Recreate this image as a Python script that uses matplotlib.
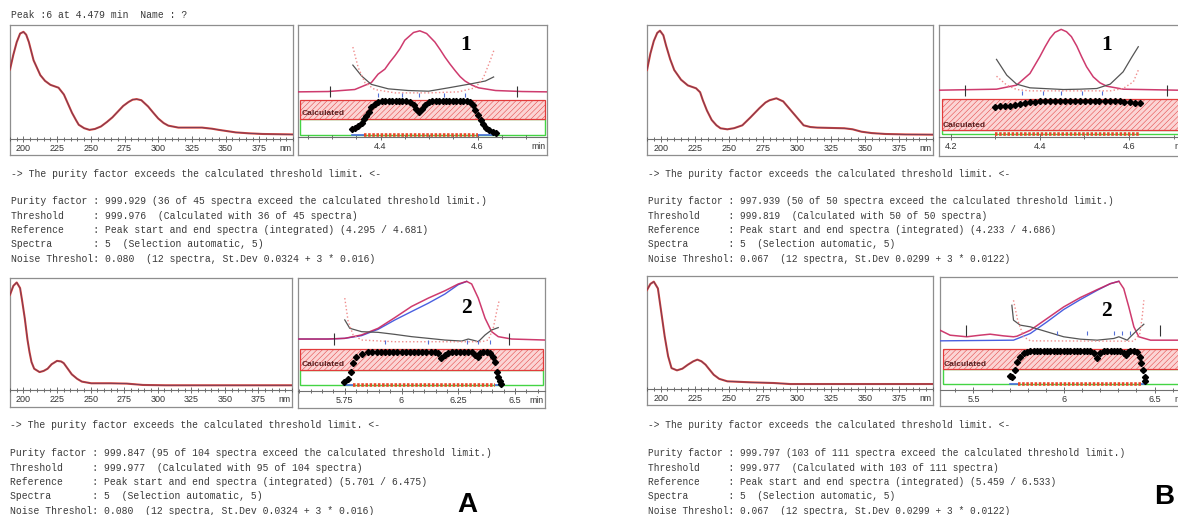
import numpy as np
import matplotlib.pyplot as plt
from matplotlib.patches import Rectangle
from matplotlib.ticker import MultipleLocator

plt.rcParams['font.family'] = 'Liberation Sans'
plt.rcParams['hatch.linewidth'] = 0.35

# ---------------- UV spectra (normalised absorbance) ----------------
spec_ticks = [200, 225, 250, 275, 300, 325, 350, 375]
spec_ticklabels = ['200', '225', '250', '275', '300', '325', '350', '375']

spec_a1_wl = [190, 192.5, 195, 197.5, 200, 202, 204, 207.5, 212.5, 216, 220, 226, 230, 233, 236,
              239, 241, 245, 249, 253, 257.5, 262, 266, 270, 274, 278, 281, 284, 287.5, 292.5,
              296, 300, 304, 307.5, 315, 325, 332.5, 340, 345, 357.5, 367, 377.5, 400]
spec_a1_ab = [0.61, 0.74, 0.85, 0.925, 0.94, 0.915, 0.85, 0.69, 0.56, 0.51, 0.475, 0.45, 0.39,
              0.31, 0.23, 0.165, 0.125, 0.095, 0.08, 0.088, 0.11, 0.15, 0.19, 0.24, 0.29, 0.325,
              0.345, 0.35, 0.34, 0.285, 0.235, 0.18, 0.14, 0.117, 0.10, 0.10, 0.10, 0.09, 0.08,
              0.058, 0.05, 0.044, 0.04]

spec_b1_wl = [190, 192.5, 195, 197.5, 199.5, 202, 204, 207, 210, 215, 220, 226, 229, 231, 234,
              237.5, 241, 244, 249, 254, 260, 266, 272.5, 277, 280, 285, 290, 295, 300, 305,
              310, 315, 325, 335, 341, 347.5, 355, 365, 380, 400]
spec_b1_ab = [0.605, 0.75, 0.86, 0.93, 0.95, 0.91, 0.82, 0.70, 0.605, 0.52, 0.47, 0.445, 0.41,
              0.34, 0.25, 0.167, 0.12, 0.094, 0.085, 0.095, 0.12, 0.19, 0.27, 0.32, 0.34, 0.357,
              0.33, 0.26, 0.19, 0.12, 0.105, 0.10, 0.097, 0.094, 0.085, 0.064, 0.052, 0.044,
              0.04, 0.038]

spec_a2_wl = [190, 192.5, 195, 197.5, 199, 201, 203, 204.5, 206, 208, 212, 215, 218, 221, 225,
              228, 230, 233, 236, 240, 243.5, 250.5, 265, 277, 289, 306, 400]
spec_a2_ab = [0.85, 0.93, 0.96, 0.91, 0.80, 0.64, 0.45, 0.34, 0.25, 0.19, 0.16, 0.17, 0.19,
              0.23, 0.26, 0.255, 0.24, 0.19, 0.14, 0.10, 0.075, 0.06, 0.06, 0.057, 0.045,
              0.042, 0.042]

spec_b2_wl = [190, 192.5, 195, 198, 200, 203, 205.5, 208, 212, 216, 220, 224, 227, 230, 233,
              236, 239, 243, 249, 266, 283, 295, 400]
spec_b2_ab = [0.876, 0.93, 0.95, 0.89, 0.72, 0.465, 0.29, 0.185, 0.165, 0.18, 0.215, 0.245,
              0.26, 0.245, 0.215, 0.17, 0.126, 0.09, 0.068, 0.059, 0.053, 0.044, 0.044]

# ---------------- peak purity panels ----------------
# panel 1, A
chrom_a1_t = [4.230, 4.292, 4.347, 4.381, 4.395, 4.409, 4.419, 4.430, 4.440, 4.450, 4.468, 4.481,
              4.495, 4.512, 4.523, 4.533, 4.543, 4.554, 4.564, 4.574, 4.588, 4.602, 4.637, 4.692, 4.743]
chrom_a1_y = [0.403, 0.406, 0.424, 0.485, 0.561, 0.606, 0.667, 0.727, 0.788, 0.864, 0.933, 0.948,
              0.924, 0.848, 0.779, 0.712, 0.652, 0.591, 0.539, 0.500, 0.464, 0.439, 0.415, 0.406, 0.403]
black_a1_t = [4.343, 4.361, 4.381, 4.416, 4.457, 4.499, 4.540, 4.588, 4.616, 4.633]
black_a1_y = [0.642, 0.545, 0.470, 0.430, 0.415, 0.409, 0.439, 0.476, 0.500, 0.536]
pink_a1_t = [4.343, 4.354, 4.368, 4.388, 4.430, 4.500, 4.560, 4.595, 4.612, 4.626, 4.634]
pink_a1_y = [0.803, 0.621, 0.485, 0.424, 0.394, 0.394, 0.403, 0.439, 0.530, 0.682, 0.779]
purity_a1_t = [4.341, 4.347, 4.354, 4.361, 4.366, 4.371, 4.376, 4.381, 4.388, 4.395,
               4.403, 4.410, 4.417, 4.424, 4.431, 4.438, 4.445, 4.452,
               4.461, 4.468, 4.474, 4.480, 4.486, 4.492, 4.499,
               4.507, 4.514, 4.521, 4.528, 4.535, 4.542, 4.549, 4.556, 4.563, 4.570, 4.578,
               4.585, 4.590, 4.595, 4.600, 4.606, 4.611, 4.617, 4.624, 4.631, 4.637]
purity_a1_y = [0.070, 0.082, 0.100, 0.127, 0.161, 0.191, 0.227, 0.264, 0.294, 0.309,
               0.318, 0.318, 0.318, 0.318, 0.318, 0.318, 0.318, 0.318,
               0.309, 0.282, 0.248, 0.221, 0.248, 0.282, 0.309,
               0.318, 0.318, 0.318, 0.318, 0.318, 0.318, 0.318, 0.318, 0.318, 0.318, 0.318,
               0.309, 0.282, 0.242, 0.197, 0.152, 0.112, 0.082, 0.061, 0.045, 0.036]
bar_a1 = [4.366, 4.600]
bounds_a1 = [4.295, 4.681]
selected_a1 = [4.395, 4.445, 4.480, 4.530, 4.575]
calc_a1 = [0.160, 0.327]
noise_a1 = [0.018, 0.160]

# panel 1, B
chrom_b1_t = [4.174, 4.303, 4.348, 4.378, 4.400, 4.412, 4.423, 4.434, 4.448, 4.460, 4.471, 4.483,
              4.494, 4.505, 4.520, 4.535, 4.550, 4.587, 4.710, 4.737]
chrom_b1_y = [0.418, 0.427, 0.463, 0.567, 0.716, 0.806, 0.881, 0.934, 0.961, 0.940, 0.896, 0.812,
              0.716, 0.627, 0.537, 0.484, 0.454, 0.427, 0.418, 0.418]
black_b1_t = [4.303, 4.326, 4.348, 4.378, 4.453, 4.490, 4.528, 4.558, 4.587, 4.606, 4.621]
black_b1_y = [0.693, 0.552, 0.472, 0.439, 0.424, 0.427, 0.433, 0.472, 0.582, 0.710, 0.806]
pink_b1_t = [4.303, 4.326, 4.348, 4.378, 4.558, 4.587, 4.610, 4.621]
pink_b1_y = [0.543, 0.463, 0.424, 0.412, 0.412, 0.433, 0.493, 0.597]
purity_b1_t = [4.299, 4.310, 4.321, 4.333, 4.344, 4.355, 4.366, 4.378, 4.389, 4.400,
               4.411, 4.422, 4.434, 4.445, 4.456, 4.467, 4.478, 4.490, 4.501, 4.512,
               4.523, 4.534, 4.546, 4.557, 4.568, 4.579, 4.590, 4.602, 4.613, 4.625]
purity_b1_y = [0.272, 0.274, 0.276, 0.281, 0.290, 0.298, 0.304, 0.310, 0.314, 0.318,
               0.320, 0.322, 0.322, 0.323, 0.323, 0.322, 0.322, 0.323, 0.323, 0.322,
               0.322, 0.321, 0.321, 0.320, 0.320, 0.318, 0.316, 0.313, 0.308, 0.300]
bar_b1 = [4.299, 4.625]
bounds_b1 = [4.233, 4.686]
selected_b1 = [4.360, 4.408, 4.448, 4.494, 4.539]
calc_b1 = [0.060, 0.343]
noise_b1 = [0.028, 0.060]

# panel 2, A
chrom_a2_t = [5.544, 5.676, 5.750, 5.824, 5.897, 5.971, 6.044, 6.118, 6.191, 6.250, 6.287,
              6.309, 6.338, 6.368, 6.397, 6.426, 6.485, 6.632]
chrom_a2_y = [0.460, 0.460, 0.466, 0.496, 0.555, 0.650, 0.748, 0.822, 0.887, 0.947, 0.970,
              0.947, 0.822, 0.644, 0.525, 0.481, 0.460, 0.451]
blue_a2_t = [5.544, 5.676, 5.750, 5.824, 5.897, 5.971, 6.044, 6.118, 6.191, 6.250, 6.287]
blue_a2_y = [0.460, 0.460, 0.466, 0.490, 0.546, 0.629, 0.703, 0.777, 0.858, 0.941, 0.970]
black_a2_t = [5.750, 5.772, 5.824, 5.897, 5.971, 6.044, 6.118, 6.191, 6.265, 6.294, 6.324,
              6.338, 6.368, 6.397, 6.426]
black_a2_y = [0.629, 0.555, 0.525, 0.519, 0.501, 0.481, 0.466, 0.451, 0.442, 0.460, 0.445,
              0.436, 0.496, 0.540, 0.561]
pink_a2_t = [5.750, 5.765, 5.787, 5.824, 5.971, 6.353, 6.382, 6.404, 6.419, 6.429]
pink_a2_y = [0.822, 0.614, 0.496, 0.451, 0.436, 0.436, 0.451, 0.555, 0.703, 0.792]
purity_a2_t = [5.747, 5.765, 5.776, 5.787, 5.801, 5.824, 5.853,
               5.871, 5.890, 5.908, 5.926, 5.944, 5.963, 5.981, 6.000, 6.018, 6.037,
               6.055, 6.074, 6.092, 6.110, 6.129, 6.147,
               6.162, 6.176, 6.191, 6.206,
               6.221, 6.240, 6.258, 6.276, 6.294, 6.309,
               6.324, 6.335, 6.346, 6.360, 6.375, 6.390, 6.404, 6.412, 6.419, 6.426, 6.434, 6.438]
purity_a2_y = [0.080, 0.110, 0.169, 0.252, 0.303, 0.329, 0.341,
               0.341, 0.341, 0.341, 0.341, 0.341, 0.341, 0.341, 0.341, 0.341, 0.341,
               0.341, 0.341, 0.341, 0.341, 0.341, 0.341,
               0.332, 0.288, 0.318, 0.335,
               0.341, 0.341, 0.341, 0.341, 0.341, 0.341,
               0.323, 0.303, 0.332, 0.341, 0.341, 0.338, 0.303, 0.258, 0.169, 0.125, 0.086, 0.065]
bar_a2 = [5.787, 6.412]
bounds_a2 = [5.701, 6.475]
selected_a2 = [5.926, 6.118, 6.287, 6.338, 6.390]
calc_a2 = [0.190, 0.371]
noise_a2 = [0.056, 0.190]

# panel 2, B
chrom_b2_t = [5.315, 5.371, 5.463, 5.537, 5.592, 5.666, 5.721, 5.740, 5.814, 5.906, 5.998,
              6.090, 6.183, 6.256, 6.303, 6.330, 6.358, 6.386, 6.413, 6.478, 6.633, 6.696]
chrom_b2_y = [0.529, 0.485, 0.471, 0.485, 0.494, 0.479, 0.471, 0.476, 0.529, 0.632, 0.735,
              0.818, 0.888, 0.941, 0.962, 0.897, 0.735, 0.559, 0.471, 0.441, 0.441, 0.441]
blue_b2_t = [5.315, 5.721, 5.814, 5.906, 5.998, 6.090, 6.183, 6.256, 6.303]
blue_b2_y = [0.435, 0.441, 0.500, 0.603, 0.712, 0.800, 0.882, 0.941, 0.962]
black_b2_t = [5.712, 5.721, 5.758, 5.814, 5.906, 5.998, 6.090, 6.183, 6.275, 6.303, 6.349,
              6.367, 6.404, 6.441]
black_b2_y = [0.750, 0.618, 0.574, 0.559, 0.515, 0.471, 0.450, 0.441, 0.456, 0.471, 0.441,
              0.471, 0.529, 0.582]
pink_b2_t = [5.721, 5.744, 5.777, 5.814, 6.386, 6.419, 6.432, 6.441]
pink_b2_y = [0.794, 0.618, 0.471, 0.435, 0.432, 0.500, 0.647, 0.794]
purity_b2_t = [5.703, 5.714, 5.727, 5.740, 5.755, 5.777, 5.795, 5.814,
               5.832, 5.851, 5.869, 5.888, 5.906, 5.924, 5.943, 5.961, 5.980, 5.998,
               6.017, 6.035, 6.053, 6.072, 6.090, 6.109, 6.127, 6.146,
               6.164, 6.183, 6.201, 6.220,
               6.238, 6.257, 6.275, 6.294, 6.312,
               6.330, 6.340, 6.353, 6.367, 6.386, 6.404, 6.419, 6.426, 6.437, 6.445, 6.450]
purity_b2_y = [0.124, 0.118, 0.176, 0.250, 0.294, 0.324, 0.338, 0.344,
               0.344, 0.344, 0.344, 0.344, 0.344, 0.344, 0.344, 0.344, 0.344, 0.344,
               0.344, 0.344, 0.344, 0.344, 0.344, 0.344, 0.344, 0.344,
               0.324, 0.285, 0.324, 0.341,
               0.344, 0.344, 0.344, 0.344, 0.344,
               0.329, 0.309, 0.338, 0.344, 0.344, 0.338, 0.294, 0.235, 0.176, 0.118, 0.082]
bar_b2 = [5.744, 6.426]
bounds_b2 = [5.459, 6.533]
selected_b2 = [5.961, 6.127, 6.275, 6.321, 6.363]
calc_b2 = [0.182, 0.359]
noise_b2 = [0.053, 0.182]

# ---------------- report texts ----------------
title_a = 'Peak :6 at 4.479 min  Name : ?'
arrow_line = '-> The purity factor exceeds the calculated threshold limit. <-'
report_a1 = ['Purity factor : 999.929 (36 of 45 spectra exceed the calculated threshold limit.)',
             'Threshold     : 999.976  (Calculated with 36 of 45 spectra)',
             'Reference     : Peak start and end spectra (integrated) (4.295 / 4.681)',
             'Spectra       : 5  (Selection automatic, 5)',
             'Noise Threshol: 0.080  (12 spectra, St.Dev 0.0324 + 3 * 0.016)']
report_a2 = ['Purity factor : 999.847 (95 of 104 spectra exceed the calculated threshold limit.)',
             'Threshold     : 999.977  (Calculated with 95 of 104 spectra)',
             'Reference     : Peak start and end spectra (integrated) (5.701 / 6.475)',
             'Spectra       : 5  (Selection automatic, 5)',
             'Noise Threshol: 0.080  (12 spectra, St.Dev 0.0324 + 3 * 0.016)']
report_b1 = ['Purity factor : 997.939 (50 of 50 spectra exceed the calculated threshold limit.)',
             'Threshold     : 999.819  (Calculated with 50 of 50 spectra)',
             'Reference     : Peak start and end spectra (integrated) (4.233 / 4.686)',
             'Spectra       : 5  (Selection automatic, 5)',
             'Noise Threshol: 0.067  (12 spectra, St.Dev 0.0299 + 3 * 0.0122)']
report_b2 = ['Purity factor : 999.797 (103 of 111 spectra exceed the calculated threshold limit.)',
             'Threshold     : 999.977  (Calculated with 103 of 111 spectra)',
             'Reference     : Peak start and end spectra (integrated) (5.459 / 6.533)',
             'Spectra       : 5  (Selection automatic, 5)',
             'Noise Threshol: 0.067  (12 spectra, St.Dev 0.0299 + 3 * 0.0122)']

# ---------------- drawing ----------------
W, H = 1178, 515
fig = plt.figure(figsize=(W / 100, H / 100), dpi=100)
FRAME = '#8e8e8e'


def box(l, t, r, b):
    return [l / W, 1 - b / H, (r - l) / W, (b - t) / H]


def frame_axes(l, t, r, b):
    fr = fig.add_axes(box(l, t, r, b))
    fr.set_xticks([])
    fr.set_yticks([])
    for s in fr.spines.values():
        s.set_color(FRAME)
        s.set_linewidth(0.9)
    return fr


def style_axis(ax, unit):
    for s in ['top', 'left', 'right']:
        ax.spines[s].set_visible(False)
    ax.spines['bottom'].set_color('#707070')
    ax.spines['bottom'].set_linewidth(0.8)
    ax.patch.set_alpha(0)
    ax.set_yticks([])
    ax.tick_params(axis='x', which='both', direction='inout', colors='#555555',
                   labelcolor='#333333', labelsize=6.5, pad=1.8, width=0.6)
    ax.tick_params(axis='x', which='major', length=4)
    ax.tick_params(axis='x', which='minor', length=3)
    ax.annotate(unit, xy=(0.995, 0), xycoords='axes fraction', xytext=(0, -7),
                textcoords='offset points', ha='right', va='center', fontsize=6.3, color='#333333')


def spectrum(l, t, r, b, axis_y, wl, ab):
    frame_axes(l, t, r, b)
    ax = fig.add_axes(box(l, t, r, axis_y))
    ax.plot(wl, ab, color='#d9463a', lw=1.5, solid_joinstyle='round')
    ax.plot(wl, ab, color='#6e3a5c', lw=0.6, solid_joinstyle='round')
    ax.set_xlim(190, 400)
    ax.set_ylim(0, 1)
    ax.set_xticks(spec_ticks, spec_ticklabels)
    ax.xaxis.set_minor_locator(MultipleLocator(5))
    style_axis(ax, 'nm')


def purity(l, t, r, b, axis_y, xlim, ticks, ticklabels, minor, chrom, black, pink,
           pur, bar, bounds, sel, calc, noise, blue=None):
    frame_axes(l, t, r, b)
    ax = fig.add_axes(box(l, t, r, axis_y))
    ax.set_xlim(*xlim)
    ax.set_ylim(0, 1)
    tr = ax.get_yaxis_transform()
    ax.add_patch(Rectangle((0.01, noise[0]), 0.98, noise[1] - noise[0], transform=tr,
                           fill=False, edgecolor='#44d444', lw=1.0))
    ax.add_patch(Rectangle((0.01, calc[0]), 0.98, calc[1] - calc[0], transform=tr,
                           facecolor='#fbd4d4', edgecolor='#e23b3b', hatch='//////', lw=0.9))
    ax.text(0.015, calc[0] + 0.015, 'Calculated', transform=tr, fontsize=6, fontweight='bold',
            color='#5b1f1f', va='bottom', ha='left')
    if blue is not None:
        ax.plot(blue[0], blue[1], color='#4a5fe0', lw=1.0)
    ax.plot(chrom[0], chrom[1], color='#c9255e', lw=1.1, alpha=0.9)
    ax.plot(black[0], black[1], color='#555555', lw=0.9)
    ax.plot(pink[0], pink[1], color='#f08c8c', lw=1.0, ls=':')
    ax.vlines(bounds, chrom[1][0] - 0.05, chrom[1][0] + 0.05, color='#333333', lw=0.8)
    ax.plot(sel, [chrom[1][0] - 0.025] * len(sel), ls='none', marker='|', ms=2.5,
            color='#5570d8', mew=0.8)
    ax.plot([pur[0][0], bar[0]], [noise[0]] * 2, color='#4a6fe0', lw=1.2)
    ax.plot([bar[1], pur[0][-1]], [noise[0]] * 2, color='#4a6fe0', lw=1.2)
    ax.plot(bar, [noise[0]] * 2, color='#e8482a', lw=2.6, dashes=(0.7, 0.45))
    ax.plot(pur[0], pur[1], ls='none', marker='D', ms=3.1, color='black')
    ax.set_xticks(ticks, ticklabels)
    ax.xaxis.set_minor_locator(MultipleLocator(minor))
    style_axis(ax, 'min')


spectrum(10, 25, 293, 155, 139, spec_a1_wl, spec_a1_ab)
spectrum(10, 278, 292, 407, 390, spec_a2_wl, spec_a2_ab)
spectrum(647, 25, 933, 155, 139, spec_b1_wl, spec_b1_ab)
spectrum(647, 276, 933, 405, 389, spec_b2_wl, spec_b2_ab)

purity(298, 25, 547, 155, 137, (4.230, 4.743), [4.4, 4.6], ['4.4', '4.6'], 0.05,
       (chrom_a1_t, chrom_a1_y), (black_a1_t, black_a1_y), (pink_a1_t, pink_a1_y),
       (purity_a1_t, purity_a1_y), bar_a1, bounds_a1, selected_a1, calc_a1, noise_a1)
purity(939, 25, 1190, 156, 137, (4.174, 4.737), [4.2, 4.4, 4.6], ['4.2', '4.4', '4.6'], 0.1,
       (chrom_b1_t, chrom_b1_y), (black_b1_t, black_b1_y), (pink_b1_t, pink_b1_y),
       (purity_b1_t, purity_b1_y), bar_b1, bounds_b1, selected_b1, calc_b1, noise_b1)
purity(298, 278, 545, 408, 391, (5.544, 6.632), [5.75, 6.0, 6.25, 6.5],
       ['5.75', '6', '6.25', '6.5'], 0.05,
       (chrom_a2_t, chrom_a2_y), (black_a2_t, black_a2_y), (pink_a2_t, pink_a2_y),
       (purity_a2_t, purity_a2_y), bar_a2, bounds_a2, selected_a2, calc_a2, noise_a2,
       blue=(blue_a2_t, blue_a2_y))
purity(940, 277, 1190, 406, 390, (5.315, 6.696), [5.5, 6.0, 6.5], ['5.5', '6', '6.5'], 0.1,
       (chrom_b2_t, chrom_b2_y), (black_b2_t, black_b2_y), (pink_b2_t, pink_b2_y),
       (purity_b2_t, purity_b2_y), bar_b2, bounds_b2, selected_b2, calc_b2, noise_b2,
       blue=(blue_b2_t, blue_b2_y))


def mono(x, y, s, size):
    fig.text(x / W, 1 - y / H, s, family='Liberation Mono', fontsize=size,
             color='#3a3a3a', va='center', ha='left')


def report(x, y_arrow, y_first, lines, size):
    mono(x, y_arrow, arrow_line, size)
    for i, s in enumerate(lines):
        mono(x, y_first + i * 14.3, s, size)


mono(11, 15, title_a, 7.0)
report(11, 174, 201.5, report_a1, 7.05)
report(10, 425, 453.3, report_a2, 7.05)
report(648, 174, 201.5, report_b1, 6.85)
report(648, 425, 453.3, report_b2, 6.85)

for x, y, s in [(466, 45, '1'), (1107, 45, '1'), (466, 308, '2'), (1106, 311, '2')]:
    fig.text(x / W, 1 - y / H, s, family='Liberation Serif', fontweight='bold',
             fontsize=15.5, ha='center', va='center', color='black')

fig.text(467 / W, 1 - 505 / H, 'A', fontsize=20, fontweight='bold', ha='center', va='center')
fig.text(1164 / W, 1 - 497 / H, 'B', fontsize=20, fontweight='bold', ha='center', va='center')

fig.savefig('out.png', dpi=100)
